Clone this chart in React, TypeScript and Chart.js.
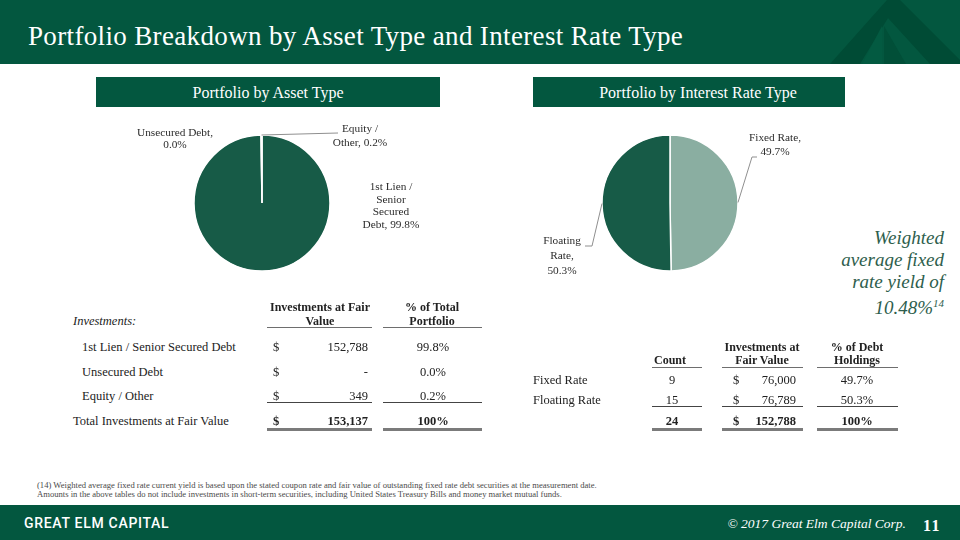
import React, { useEffect, useRef } from "react";
import { Chart, registerables } from "chart.js";

Chart.register(...registerables);

// ---------- DATA ----------
const assetCategories = ["1st Lien / Senior Secured Debt", "Unsecured Debt", "Equity / Other"];
const assetValues = [152788, 0, 349];
const assetTotalValue = 153137;
const assetLabelLines = [
  ["1st Lien /", "Senior", "Secured", "Debt, {p}"],
  ["Unsecured Debt,", "{p}"],
  ["Equity /", "Other, {p}"],
];

const rateCategories = ["Fixed Rate", "Floating Rate"];
const rateCounts = [9, 15];
const rateValues = [76000, 76789];
const rateTotalValue = 152788; // as reported (components are rounded)
const rateLabelLines = [
  ["Fixed Rate,", "{p}"],
  ["Floating", "Rate,", "{p}"],
];

const fixedRateYield = "10.48%";
const footnoteLines = [
  "(14) Weighted average fixed rate current yield is based upon the stated coupon rate and fair value of outstanding fixed rate debt securities at the measurement date.",
  "Amounts in the above tables do not include investments in short-term securities, including United States Treasury Bills and money market mutual funds.",
];

// ---------- STYLE ----------
const GREEN = "#03573F";
const PIE_DARK = "#175B47";
const PIE_LIGHT = "#8AAEA1";
const PIE_SLIVER = "#E4ECE8";
const SERIF = "'Liberation Serif', 'DejaVu Serif', serif";

type LabelLayout = { dx: number; dy: number; lh: number; leader?: number[][] };

const assetLabelLayout: LabelLayout[] = [
  { dx: 129, dy: -16, lh: 12.7 },
  { dx: -87, dy: -70, lh: 12.5 },
  { dx: 98, dy: -73.5, lh: 13.5, leader: [[76, -70]] },
];
const rateLabelLayout: LabelLayout[] = [
  { dx: 105, dy: -65, lh: 14, leader: [[82, -46], [87, -46]] },
  { dx: -108, dy: 38, lh: 15, leader: [[-78, 43], [-85, 43]] },
];

const sum = (a: number[]) => a.reduce((s, v) => s + v, 0);
const fmt = (v: number) => v.toLocaleString("en-US");
const pctOf = (v: number, t: number) => ((v / t) * 100).toFixed(1) + "%";

function makeLabelPlugin(values: number[], total: number, lines: string[][], layout: LabelLayout[]) {
  return {
    id: "pieLabels",
    afterDatasetsDraw(chart: any) {
      const ctx = chart.ctx as CanvasRenderingContext2D;
      const meta = chart.getDatasetMeta(0);
      ctx.save();
      meta.data.forEach((arc: any, i: number) => {
        const L = layout[i];
        if (!L) return;
        const { x, y, outerRadius, startAngle, endAngle } = arc.getProps(
          ["x", "y", "outerRadius", "startAngle", "endAngle"],
          true
        );
        if (L.leader) {
          const mid = (startAngle + endAngle) / 2;
          ctx.beginPath();
          ctx.strokeStyle = "#8f8f8f";
          ctx.lineWidth = 1;
          ctx.moveTo(x + Math.cos(mid) * outerRadius, y + Math.sin(mid) * outerRadius);
          L.leader.forEach(([dx, dy]) => ctx.lineTo(x + dx, y + dy));
          ctx.stroke();
        }
        ctx.fillStyle = "#2b2b2b";
        ctx.font = "11.3px " + SERIF;
        ctx.textAlign = "center";
        ctx.textBaseline = "middle";
        const p = pctOf(values[i], total);
        lines[i].forEach((ln, k) => {
          ctx.fillText(ln.replace("{p}", p), x + L.dx, y + L.dy + k * L.lh);
        });
      });
      ctx.restore();
    },
  };
}

function PieChart(props: {
  labels: string[];
  values: number[];
  total: number;
  colors: string[];
  lines: string[][];
  layout: LabelLayout[];
  left: number;
  top: number;
  width: number;
  height: number;
}) {
  const ref = useRef<HTMLCanvasElement | null>(null);
  useEffect(() => {
    if (!ref.current) return;
    const chart = new Chart(ref.current, {
      type: "pie",
      data: {
        labels: props.labels,
        datasets: [
          {
            data: props.values,
            backgroundColor: props.colors,
            borderColor: "#ffffff",
            borderWidth: 1.5,
            radius: 68,
          } as any,
        ],
      },
      options: {
        responsive: false,
        animation: false,
        events: [],
        layout: { padding: 0 },
        plugins: { legend: { display: false }, tooltip: { enabled: false } },
      },
      plugins: [makeLabelPlugin(props.values, props.total, props.lines, props.layout)],
    });
    return () => chart.destroy();
  }, []);
  return (
    <canvas
      ref={ref}
      width={props.width}
      height={props.height}
      style={{ position: "absolute", left: props.left, top: props.top, width: props.width, height: props.height }}
    />
  );
}

function T(props: {
  x: number;
  y: number;
  children: React.ReactNode;
  align?: "left" | "right" | "center";
  size?: number;
  weight?: number;
  italic?: boolean;
  color?: string;
  family?: string;
  ls?: number;
}) {
  const size = props.size ?? 12.5;
  const L = Math.round(size * 1.3);
  const st: React.CSSProperties = {
    position: "absolute",
    top: props.y - L / 2,
    lineHeight: L + "px",
    height: L,
    fontSize: size,
    fontWeight: props.weight ?? 400,
    fontStyle: props.italic ? "italic" : "normal",
    color: props.color ?? "#222",
    whiteSpace: "nowrap",
    fontFamily: props.family ?? SERIF,
    letterSpacing: props.ls ?? 0,
  };
  const a = props.align ?? "left";
  if (a === "left") st.left = props.x;
  else if (a === "right") {
    st.right = 960 - props.x;
    st.textAlign = "right";
  } else {
    st.left = props.x - 300;
    st.width = 600;
    st.textAlign = "center";
  }
  return <div style={st}>{props.children}</div>;
}

function HL(props: { x1: number; x2: number; y: number; h?: number; c?: string }) {
  return (
    <div
      style={{
        position: "absolute",
        left: props.x1,
        top: props.y,
        width: props.x2 - props.x1,
        height: props.h ?? 1,
        background: props.c ?? "#444",
      }}
    />
  );
}

export default function App() {
  const countTotal = sum(rateCounts);
  const assetRowsY = [347, 372, 396];
  const rateRowsY = [380, 400];

  return (
    <div
      style={{
        position: "absolute",
        left: 0,
        top: 0,
        width: 960,
        height: 540,
        background: "#ffffff",
        overflow: "hidden",
        fontFamily: SERIF,
      }}
    >
      {/* Header */}
      <div style={{ position: "absolute", left: 0, top: 0, width: 960, height: 64, background: GREEN }} />
      <svg style={{ position: "absolute", left: 0, top: 0 }} width={960} height={64}>
        <polygon points="830,64 887,0 900,0 962,62 962,64 930,64 888,18 860,64" fill="#004B35" />
        <polygon points="882,26 882,64 862,64" fill="#035A41" />
        <polygon points="884,26 906,64 884,64" fill="#014F38" />
      </svg>
      <T x={28} y={36.5} size={27} color="#ffffff" ls={0.35}>
        Portfolio Breakdown by Asset Type and Interest Rate Type
      </T>

      {/* Sub headers */}
      <div style={{ position: "absolute", left: 96, top: 77, width: 344, height: 30, background: GREEN }} />
      <div style={{ position: "absolute", left: 533, top: 77, width: 312, height: 30, background: GREEN }} />
      <T x={268} y={92} size={16} align="center" color="#ffffff">
        Portfolio by Asset Type
      </T>
      <T x={698} y={92} size={16} align="center" color="#ffffff">
        Portfolio by Interest Rate Type
      </T>

      {/* Pies */}
      <PieChart
        labels={assetCategories}
        values={assetValues}
        total={assetTotalValue}
        colors={[PIE_DARK, PIE_SLIVER, PIE_SLIVER]}
        lines={assetLabelLines}
        layout={assetLabelLayout}
        left={96}
        top={105}
        width={332}
        height={196}
      />
      <PieChart
        labels={rateCategories}
        values={rateValues}
        total={rateTotalValue}
        colors={[PIE_LIGHT, PIE_DARK]}
        lines={rateLabelLines}
        layout={rateLabelLayout}
        left={530}
        top={105}
        width={280}
        height={196}
      />

      {/* Weighted yield note */}
      {["Weighted", "average fixed", "rate yield of"].map((s, i) => (
        <T key={s} x={944} y={237 + i * 22} size={19} italic align="right" color="#2E5E4D">
          {s}
        </T>
      ))}
      <T x={944} y={303} size={19} italic align="right" color="#2E5E4D">
        {fixedRateYield}
        <span style={{ fontSize: 11, verticalAlign: "7px" }}>14</span>
      </T>

      {/* Left table */}
      <T x={73} y={321} italic>
        Investments:
      </T>
      <T x={320} y={307} size={12} weight={700} align="center">
        Investments at Fair
      </T>
      <T x={320} y={321} size={12} weight={700} align="center">
        Value
      </T>
      <T x={432} y={307} size={12} weight={700} align="center">
        % of Total
      </T>
      <T x={432} y={321} size={12} weight={700} align="center">
        Portfolio
      </T>
      <HL x1={267} x2={372} y={326.5} h={1.5} c="#6e6e6e" />
      <HL x1={383} x2={482} y={326.5} h={1.5} c="#6e6e6e" />
      {assetCategories.map((c, i) => (
        <React.Fragment key={c}>
          <T x={82} y={assetRowsY[i]}>{c}</T>
          <T x={273} y={assetRowsY[i]}>$</T>
          <T x={368} y={assetRowsY[i]} align="right">
            {assetValues[i] === 0 ? "-" : fmt(assetValues[i])}
          </T>
          <T x={433} y={assetRowsY[i]} align="center">
            {pctOf(assetValues[i], assetTotalValue)}
          </T>
        </React.Fragment>
      ))}
      <HL x1={267} x2={372} y={402} />
      <HL x1={383} x2={482} y={402} />
      <T x={73} y={421}>Total Investments at Fair Value</T>
      <T x={273} y={421} weight={700}>$</T>
      <T x={368} y={421} weight={700} align="right">
        {fmt(assetTotalValue)}
      </T>
      <T x={433} y={421} weight={700} align="center">
        100%
      </T>
      <HL x1={267} x2={372} y={428} h={3} c="#7b7b7b" />
      <HL x1={383} x2={482} y={428} h={3} c="#7b7b7b" />

      {/* Right table */}
      <T x={670} y={360} size={12} weight={700} align="center">
        Count
      </T>
      <T x={762} y={347} size={12} weight={700} align="center">
        Investments at
      </T>
      <T x={762} y={360} size={12} weight={700} align="center">
        Fair Value
      </T>
      <T x={857} y={347} size={12} weight={700} align="center">
        % of Debt
      </T>
      <T x={857} y={360} size={12} weight={700} align="center">
        Holdings
      </T>
      <HL x1={652} x2={702} y={366.5} h={1.5} c="#6e6e6e" />
      <HL x1={722} x2={803} y={366.5} h={1.5} c="#6e6e6e" />
      <HL x1={817} x2={898} y={366.5} h={1.5} c="#6e6e6e" />
      {rateCategories.map((c, i) => (
        <React.Fragment key={c}>
          <T x={533} y={rateRowsY[i]}>{c}</T>
          <T x={672} y={rateRowsY[i]} align="center">
            {rateCounts[i]}
          </T>
          <T x={733} y={rateRowsY[i]}>$</T>
          <T x={796} y={rateRowsY[i]} align="right">
            {fmt(rateValues[i])}
          </T>
          <T x={857} y={rateRowsY[i]} align="center">
            {pctOf(rateValues[i], rateTotalValue)}
          </T>
        </React.Fragment>
      ))}
      <HL x1={652} x2={702} y={406} />
      <HL x1={722} x2={803} y={406} />
      <HL x1={817} x2={898} y={406} />
      <T x={672} y={421} weight={700} align="center">
        {countTotal}
      </T>
      <T x={733} y={421} weight={700}>$</T>
      <T x={796} y={421} weight={700} align="right">
        {fmt(rateTotalValue)}
      </T>
      <T x={857} y={421} weight={700} align="center">
        100%
      </T>
      <HL x1={652} x2={702} y={428} h={3} c="#7b7b7b" />
      <HL x1={722} x2={803} y={428} h={3} c="#7b7b7b" />
      <HL x1={817} x2={898} y={428} h={3} c="#7b7b7b" />

      {/* Footnotes */}
      {footnoteLines.map((s, i) => (
        <T key={i} x={37} y={485 + i * 9.5} size={8.6} color="#4a4a4a">
          {s}
        </T>
      ))}

      {/* Footer */}
      <div style={{ position: "absolute", left: 0, top: 505, width: 960, height: 35, background: GREEN }} />
      <T x={24} y={523} size={14} weight={500} color="#ffffff" family="Roboto, 'Liberation Sans', sans-serif" ls={0.7}>
        GREAT ELM CAPITAL
      </T>
      <T x={906} y={524} size={13.5} italic color="#ffffff" align="right">
        © 2017 Great Elm Capital Corp.
      </T>
      <T x={923} y={525} size={16} weight={700} color="#ffffff" ls={1.5}>
        11
      </T>
    </div>
  );
}
